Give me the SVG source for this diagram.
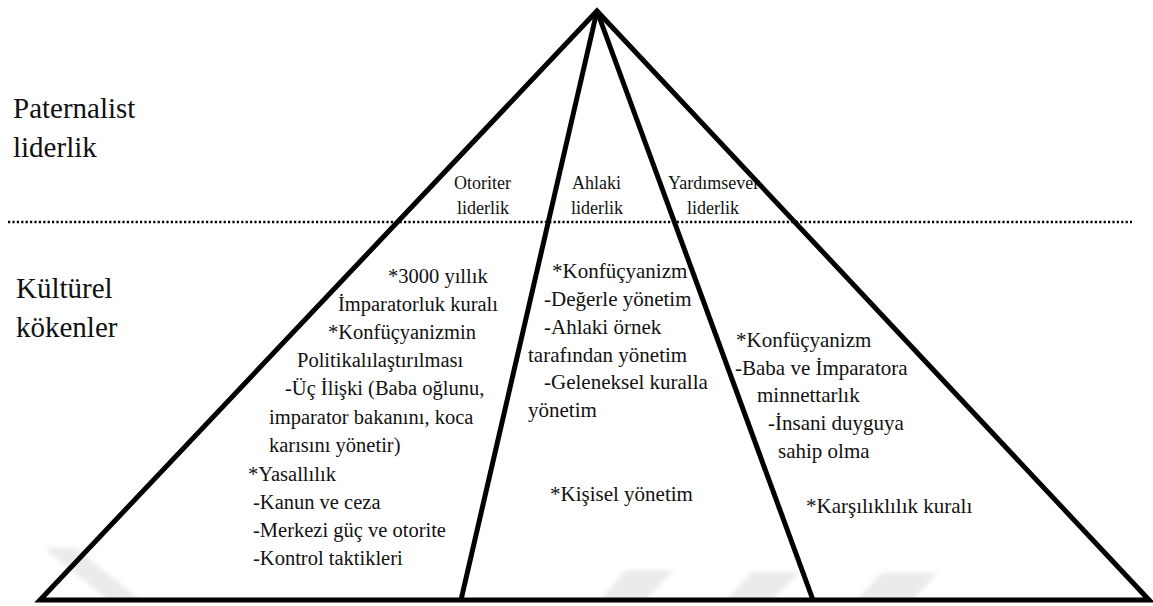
<svg xmlns="http://www.w3.org/2000/svg" width="1153" height="606" viewBox="0 0 1153 606">
  <defs>
    <style>
      text { font-family: 'Liberation Serif', 'Times New Roman', serif; fill: #111; }
      .side { font-size: 29px; }
      .small { font-size: 18px; }
      .left { font-size: 20.5px; }
      .body { font-size: 21px; }
      .edge { fill: none; stroke: #000; stroke-width: 5; stroke-linejoin: miter; stroke-linecap: butt; }
      .divider { stroke: #000; stroke-width: 2.4; stroke-dasharray: 2.2 2.2; }
      .mark { fill: #ebebeb; }
    </style>
    <filter id="soft" x="-20%" y="-20%" width="140%" height="140%">
      <feGaussianBlur stdDeviation="2"/>
    </filter>
  </defs>

  <rect width="1153" height="606" fill="#fff"/>

  <!-- faint background marks near the base -->
  <g id="marks" filter="url(#soft)">
    <polygon class="mark" points="44,548 76,548 140,600 108,600"/>
    <polygon class="mark" points="626,570 674,570 646,600 600,600"/>
    <polygon class="mark" points="752,572 800,572 772,600 726,600"/>
    <polygon class="mark" points="882,573 938,573 912,600 856,600"/>
  </g>

  <!-- side labels -->
  <g id="label-paternalist">
    <text class="side" x="13" y="118">Paternalist</text>
    <text class="side" x="13" y="157">liderlik</text>
  </g>
  <g id="label-kulturel">
    <text class="side" x="16" y="298">Kültürel</text>
    <text class="side" x="16" y="337">kökenler</text>
  </g>

  <!-- leadership dimensions -->
  <g id="otoriter">
    <text class="small" x="454" y="189">Otoriter</text>
    <text class="small" x="457" y="214">liderlik</text>
  </g>
  <g id="ahlaki">
    <text class="small" x="572" y="189">Ahlaki</text>
    <text class="small" x="571" y="214">liderlik</text>
  </g>
  <g id="yardimsever">
    <text class="small" x="668" y="189">Yardımsever</text>
    <text class="small" x="687" y="214">liderlik</text>
  </g>

  <!-- cultural roots, left section -->
  <g id="roots-otoriter">
    <text class="left" x="388" y="283">*3000 yıllık</text>
    <text class="left" x="338" y="311">İmparatorluk kuralı</text>
    <text class="left" x="328" y="339">*Konfüçyanizmin</text>
    <text class="left" x="297" y="367">Politikalılaştırılması</text>
    <text class="left" x="285" y="395">-Üç İlişki (Baba oğlunu,</text>
    <text class="left" x="269" y="424">imparator bakanını, koca</text>
    <text class="left" x="269" y="452">karısını yönetir)</text>
    <text class="left" x="248" y="481">*Yasallılık</text>
    <text class="left" x="253" y="509">-Kanun ve ceza</text>
    <text class="left" x="253" y="537">-Merkezi güç ve otorite</text>
    <text class="left" x="253" y="565">-Kontrol taktikleri</text>
  </g>

  <!-- cultural roots, middle section -->
  <g id="roots-ahlaki">
    <text class="body" x="552" y="278">*Konfüçyanizm</text>
    <text class="body" x="544" y="306">-Değerle yönetim</text>
    <text class="body" x="544" y="334">-Ahlaki örnek</text>
    <text class="body" x="528" y="362">tarafından yönetim</text>
    <text class="body" x="544" y="389">-Geleneksel kuralla</text>
    <text class="body" x="528" y="417">yönetim</text>
    <text class="body" x="550" y="501">*Kişisel yönetim</text>
  </g>

  <!-- cultural roots, right section -->
  <g id="roots-yardimsever">
    <text class="body" x="736" y="347">*Konfüçyanizm</text>
    <text class="body" x="735" y="375">-Baba ve İmparatora</text>
    <text class="body" x="757" y="402">minnettarlık</text>
    <text class="body" x="768" y="430">-İnsani duyguya</text>
    <text class="body" x="778" y="458">sahip olma</text>
    <text class="body" x="806" y="513">*Karşılıklılık kuralı</text>
  </g>

  <!-- pyramid outline, inner edges and the dotted divider -->
  <g id="connectors">
    <line class="divider" x1="8" y1="222" x2="1132" y2="222"/>
    <polygon class="edge" points="597,11 1149,600 40,600"/>
    <line class="edge" x1="597" y1="11" x2="461" y2="600"/>
    <line class="edge" x1="597" y1="11" x2="813" y2="600"/>
  </g>
</svg>
